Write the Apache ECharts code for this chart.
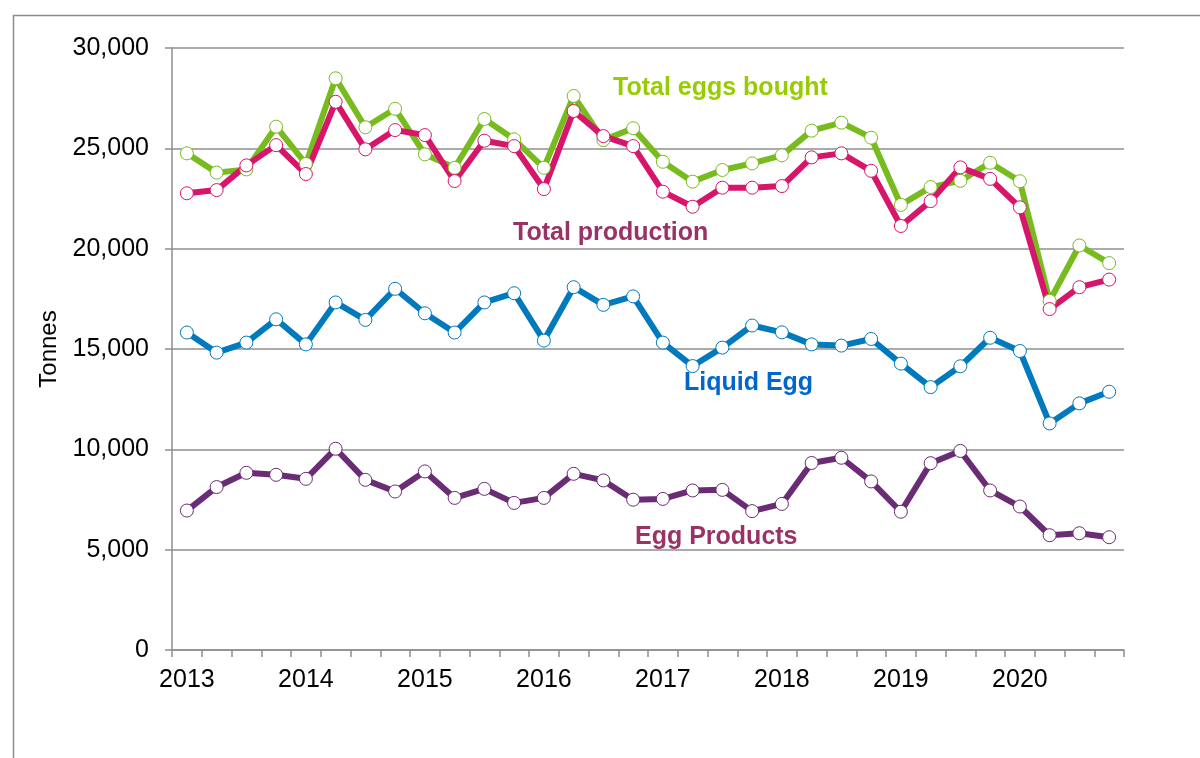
<!DOCTYPE html>
<html>
<head>
<meta charset="utf-8">
<script src="https://cdn.jsdelivr.net/npm/echarts@6/dist/echarts.min.js"></script>
<style>
  html, body { margin: 0; padding: 0; background: #fff; }
  #chart { width: 1200px; height: 758px; }
</style>
</head>
<body>
<div id="chart"></div>
<script>
const quarters = []
for (const yr of [2013, 2014, 2015, 2016, 2017, 2018, 2019, 2020]) {
  for (const q of ['Q1', 'Q2', 'Q3', 'Q4']) quarters.push(yr + ' ' + q)
}

const totalEggsBought = [
  24750, 23790, 23950, 26080, 24220, 28490, 26050, 26970,
  24700, 24030, 26460, 25450, 24030, 27610, 25410, 26000,
  24330, 23340, 23920, 24250, 24650, 25880, 26280, 25530,
  22180, 23070, 23380, 24280, 23360, 17400, 20160, 19280
]
const totalProduction = [
  22760, 22920, 24150, 25160, 23720, 27320, 24950, 25910,
  25660, 23370, 25380, 25110, 22970, 26860, 25610, 25110,
  22840, 22090, 23040, 23040, 23120, 24550, 24750, 23880,
  21130, 22370, 24050, 23480, 22060, 16990, 18080, 18460
]
const liquidEgg = [
  15820, 14820, 15320, 16480, 15230, 17320, 16450, 18000,
  16780, 15820, 17320, 17780, 15420, 18080, 17200, 17620,
  15320, 14150, 15070, 16170, 15830, 15230, 15170, 15500,
  14270, 13100, 14140, 15560, 14900, 11290, 12290, 12870
]
const eggProducts = [
  6950, 8120, 8830, 8730, 8530, 10030, 8480, 7900,
  8900, 7580, 8030, 7330, 7580, 8780, 8450, 7490,
  7530, 7950, 7980, 6920, 7280, 9320, 9580, 8400,
  6890, 9310, 9920, 7950, 7150, 5720, 5820, 5620
]

const FONT = '"Liberation Sans", Arial, sans-serif'
const GRID_GREY = '#8f8f8f'

function lineSeries(name, data, color) {
  return {
    name, type: 'line', data,
    symbol: 'circle', symbolSize: 13,
    lineStyle: { color, width: 6 },
    itemStyle: { color: '#fff', borderColor: color, borderWidth: 1 },
    emphasis: { disabled: true },
    animation: false,
  }
}

function label(text, left, y, color) {
  return {
    type: 'text', left, top: y - 10,
    style: { text, fill: color, font: 'bold 25px ' + FONT },
  }
}

const chart = echarts.init(document.getElementById('chart'), null, { renderer: 'canvas' })

chart.setOption({
  backgroundColor: '#fff',
  animation: false,
  grid: { left: 172, right: 76, top: 48, bottom: 108 },
  xAxis: {
    type: 'category',
    data: quarters,
    boundaryGap: true,
    axisLine: { lineStyle: { color: GRID_GREY, width: 1.5 } },
    axisTick: { show: true, interval: 0, length: 7, lineStyle: { color: GRID_GREY, width: 1.5 } },
    axisLabel: {
      interval: 3, margin: 18,
      color: '#000', fontSize: 25, fontFamily: FONT,
      formatter: v => v.slice(0, 4),
    },
    splitLine: { show: false },
  },
  yAxis: {
    type: 'value',
    min: 0, max: 30000, interval: 5000,
    name: 'Tonnes',
    nameLocation: 'middle',
    nameGap: 110,
    nameRotate: 90,
    nameTextStyle: { color: '#000', fontSize: 24, fontFamily: FONT },
    axisLine: { show: true, lineStyle: { color: GRID_GREY, width: 1.5 } },
    axisTick: { show: true, length: 7, lineStyle: { color: GRID_GREY, width: 1.5 } },
    axisLabel: {
      margin: 23, color: '#000', fontSize: 25, fontFamily: FONT,
      formatter: v => v.toLocaleString('en-GB'),
    },
    splitLine: { lineStyle: { color: GRID_GREY, width: 1.5 } },
  },
  series: [
    lineSeries('Egg Products', eggProducts, '#6a2c74'),
    lineSeries('Liquid Egg', liquidEgg, '#0079bd'),
    lineSeries('Total eggs bought', totalEggsBought, '#78bb1e'),
    lineSeries('Total production', totalProduction, '#d7156a'),
  ],
  graphic: [
    {
      type: 'rect', left: 11, top: 13, silent: true,
      shape: { width: 1300, height: 900 },
      style: { fill: 'none', stroke: '#8c8c8c', lineWidth: 1.5 },
    },
    label('Total eggs bought', 613, 86, '#99cc00'),
    label('Total production', 513, 231, '#993366'),
    label('Liquid Egg', 684, 381, '#0066cc'),
    label('Egg Products', 635, 535, '#993366'),
  ],
})
</script>
</body>
</html>
